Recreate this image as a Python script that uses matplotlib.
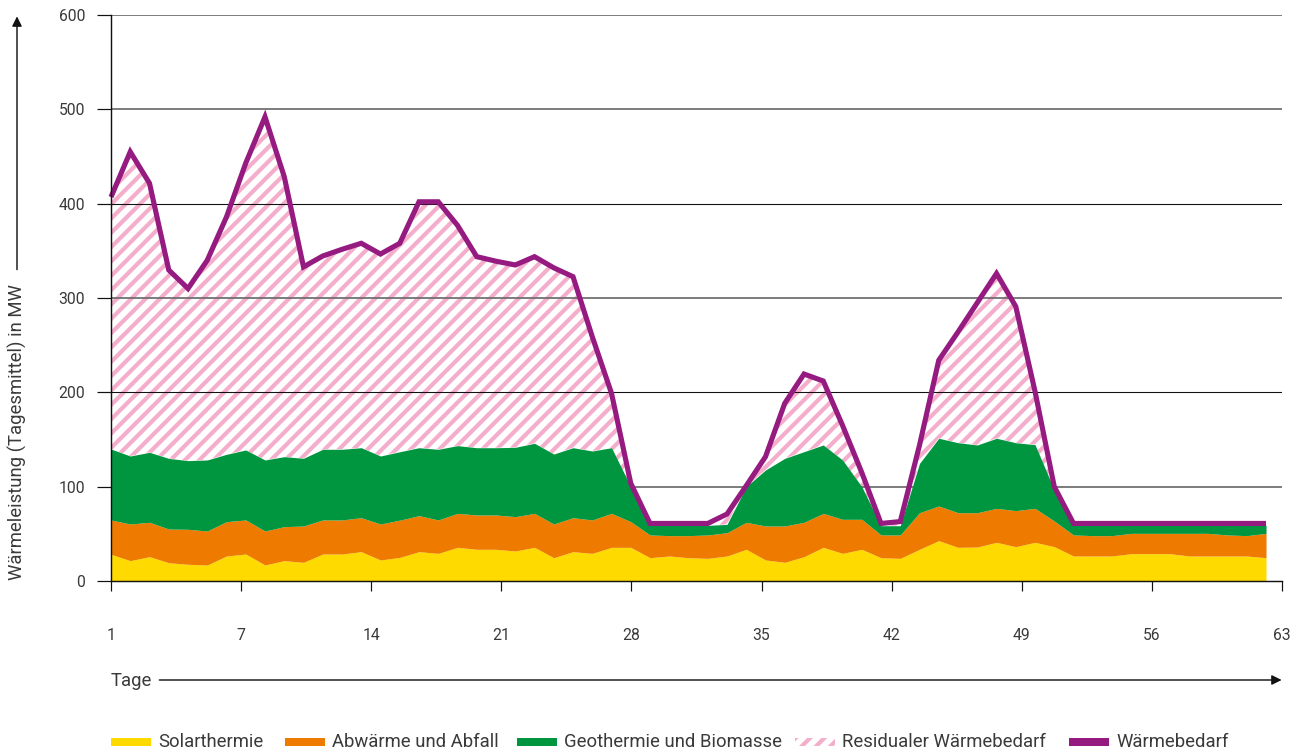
import numpy as np
import matplotlib
matplotlib.use("Agg")
import matplotlib.pyplot as plt
from matplotlib.patches import Rectangle, FancyArrowPatch

# ---------------- data ----------------
days = np.arange(61)

solarthermie = [28.3, 21.6, 25.8, 19.4, 17.7, 17.0, 26.5, 28.6, 17.0, 21.6,
                19.8, 28.6, 28.6, 31.1, 22.3, 25.0, 31.1, 29.3, 35.7, 33.6,
                33.6, 31.8, 35.7, 24.7, 31.1, 29.3, 35.7, 35.7, 24.7, 26.5,
                24.7, 24.0, 26.5, 33.6, 22.3, 19.8, 25.8, 35.7, 29.3, 33.6,
                24.7, 24.0, 33.6, 42.8, 35.7, 36.0, 41.0, 36.4, 41.0, 36.4,
                26.5, 26.5, 26.5, 29.0, 29.0, 29.0, 26.5, 26.5, 26.5, 26.5,
                24.7]

abwaerme = [36.4, 38.8, 36.4, 35.7, 37.1, 36.0, 36.4, 36.1, 36.0, 36.0,
            38.5, 36.1, 36.1, 36.0, 38.1, 39.5, 38.2, 35.4, 36.0, 36.4,
            36.4, 36.4, 36.0, 35.7, 36.0, 35.4, 36.0, 27.2, 24.1, 21.6,
            23.4, 24.8, 24.7, 28.6, 36.0, 38.5, 36.4, 36.0, 36.1, 31.8,
            24.1, 24.8, 38.8, 36.7, 36.7, 36.4, 36.0, 38.2, 36.0, 27.2,
            22.3, 21.6, 21.6, 21.5, 21.5, 21.5, 24.0, 24.0, 22.3, 21.6,
            25.8]

geothermie = [75.2, 72.1, 74.2, 74.9, 72.8, 75.3, 71.4, 74.2, 75.3, 74.2,
              71.8, 74.9, 74.9, 74.2, 72.1, 72.5, 72.0, 74.9, 71.8, 71.3,
              71.3, 73.5, 74.3, 74.2, 74.2, 73.1, 69.6, 37.1, 10.2, 10.9,
              10.9, 10.2, 8.8, 37.8, 59.4, 71.7, 74.9, 72.5, 62.9, 34.6,
              9.8, 9.8, 52.3, 71.8, 74.2, 71.8, 74.3, 72.0, 67.5, 32.9,
              10.2, 10.9, 10.9, 8.5, 8.5, 8.5, 8.5, 8.5, 10.2, 10.9,
              8.5]

waermebedarf = [407, 455, 421.6, 329.7, 310, 340, 386, 443, 492, 428.6,
                333, 344.5, 351.6, 358, 346.6, 358, 402, 402, 377, 343.8,
                339, 335, 343.8, 332, 322.6, 259, 199, 103.6, 61, 61,
                61, 61, 71, 101, 131.8, 188.4, 219.4, 212, 165, 115,
                61, 63, 144, 234, 264, 295, 326, 291, 201, 100,
                61, 61, 61, 61, 61, 61, 61, 61, 61, 61,
                61]

x_tick_labels = ["1", "7", "14", "21", "28", "35", "42", "49", "56", "63"]
y_ticks = [0, 100, 200, 300, 400, 500, 600]
series_names = ["Solarthermie", "Abwärme und Abfall", "Geothermie und Biomasse",
                "Residualer Wärmebedarf", "Wärmebedarf"]

# ---------------- style ----------------
C_YELLOW = "#FFDA00"
C_ORANGE = "#EE7B00"
C_GREEN = "#009640"
C_PINK = "#F4AECB"
C_PURPLE = "#951B81"
C_TEXT = "#3a3a3a"

DPI = 86
W, H = 1306, 755
plt.rcParams["font.family"] = ["Roboto", "DejaVu Sans"]
plt.rcParams["hatch.linewidth"] = 3.5
plt.rcParams["hatch.color"] = C_PINK
FS = 13.2      # tick labels
FS_T = 15.5    # titles / legend

fig = plt.figure(figsize=(W / DPI, H / DPI), dpi=DPI)
ax = fig.add_axes([111 / W, 1 - 581 / H, 1171 / W, 566 / H])

x = days
s = np.array(solarthermie)
a = np.array(abwaerme)
g = np.array(geothermie)
d = np.array(waermebedarf)
top1 = s
top2 = s + a
top3 = s + a + g

# residual hatched area
ax.fill_between(x, top3, np.maximum(d, top3), facecolor="white",
                edgecolor=C_PINK, hatch="//", linewidth=0, zorder=1)

# gridlines
for yv in y_ticks[1:]:
    if yv in (200, 400):
        ax.axhline(yv, color="#111111", lw=0.9, zorder=1.5)
    else:
        ax.axhline(yv, color="#707070", lw=1.5, zorder=1.5)

ax.fill_between(x, 0, top1, color=C_YELLOW, lw=0, zorder=2)
ax.fill_between(x, top1, top2, color=C_ORANGE, lw=0, zorder=2)
ax.fill_between(x, top2, top3, color=C_GREEN, lw=0, zorder=2)

ax.plot(x, d, color=C_PURPLE, lw=4.3, solid_joinstyle="miter",
        solid_capstyle="butt", zorder=3, clip_on=False)

x_max = 60.83
ax.set_xlim(0, x_max)
ax.set_ylim(0, 600)
ax.set_xticks(np.linspace(0, x_max, len(x_tick_labels)))
ax.set_xticklabels(x_tick_labels)
ax.set_yticks(y_ticks)
ax.set_yticklabels([str(v) for v in y_ticks])

for sp in ("top", "right"):
    ax.spines[sp].set_visible(False)
for sp in ("left", "bottom"):
    ax.spines[sp].set_color("#111111")
    ax.spines[sp].set_linewidth(1.2)
    ax.spines[sp].set_zorder(4)

ax.tick_params(axis="y", direction="out", length=11.5, width=1.0,
               color="#111111", pad=10, labelsize=FS, labelcolor=C_TEXT)
ax.tick_params(axis="x", direction="out", length=8, width=1.0,
               color="#111111", pad=31, labelsize=FS, labelcolor=C_TEXT)

# axis titles with arrows
fig.text(17 / W, 1 - 432 / H, "Wärmeleistung (Tagesmittel) in MW",
         rotation=90, ha="center", va="center", fontsize=FS_T, color=C_TEXT)
fig.add_artist(FancyArrowPatch((17 / W, 1 - 272 / H), (17 / W, 1 - 14 / H),
                               transform=fig.transFigure,
                               arrowstyle="-|>", mutation_scale=17,
                               color="#111111", lw=1.2))
fig.text(111 / W, 1 - 681 / H, "Tage", ha="left", va="center",
         fontsize=FS_T, color=C_TEXT)
fig.add_artist(FancyArrowPatch((157 / W, 1 - 680 / H), (1284 / W, 1 - 680 / H),
                               transform=fig.transFigure,
                               arrowstyle="-|>", mutation_scale=17,
                               color="#111111", lw=1.2))

# legend
leg_y = 742
leg_items = [
    (111, C_YELLOW, None),
    (285, C_ORANGE, None),
    (517, C_GREEN, None),
    (795, C_PINK, "//"),
    (1069, C_PURPLE, None),
]
for (x0, col, hatch), name in zip(leg_items, series_names):
    if hatch:
        r = Rectangle((x0 / W, 1 - (leg_y + 4) / H), 40 / W, 8 / H,
                      transform=fig.transFigure, facecolor="white",
                      edgecolor=col, hatch=hatch, lw=0)
    else:
        r = Rectangle((x0 / W, 1 - (leg_y + 4) / H), 40 / W, 8 / H,
                      transform=fig.transFigure, facecolor=col, lw=0)
    fig.add_artist(r)
    fig.text((x0 + 47) / W, 1 - leg_y / H, name, ha="left", va="center",
             fontsize=FS_T, color=C_TEXT)

fig.savefig("out.png", dpi=DPI)
